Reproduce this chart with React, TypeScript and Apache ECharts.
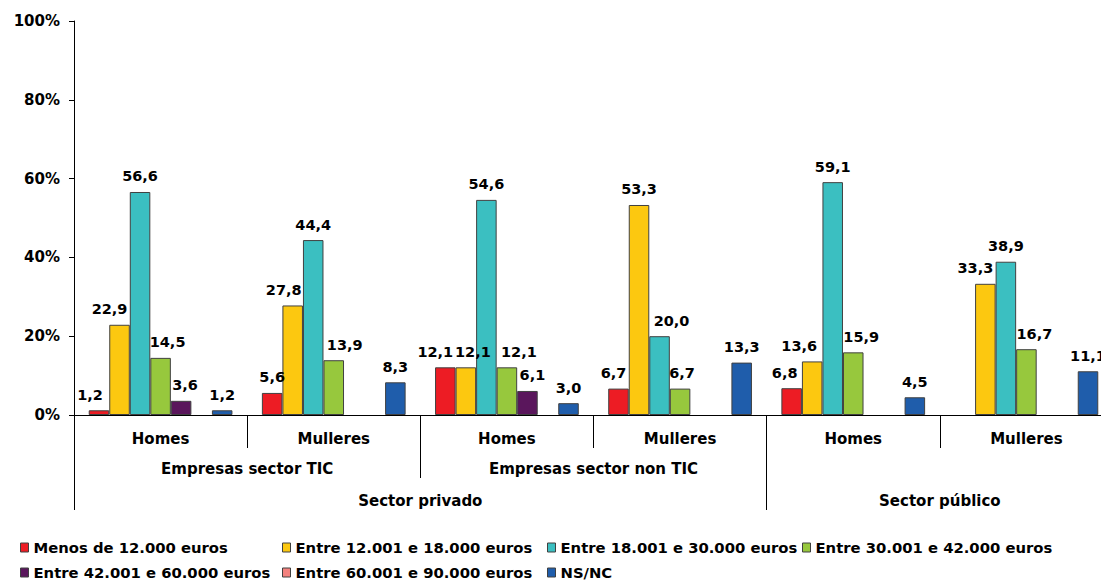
import React, { useEffect, useRef } from "react";
import * as echarts from "echarts";

const groups = ["Homes", "Mulleres", "Homes", "Mulleres", "Homes", "Mulleres"];
const subSectors = ["Empresas sector TIC", "Empresas sector non TIC", ""];
const sectorPositions = [2, 5];
const sectorNames = ["Sector privado", "Sector público"];
const sectorTicks = [0, 4, 6];
const yTicks = [0, 20, 40, 60, 80, 100];

const seriesNames = [
  "Menos de 12.000 euros",
  "Entre 12.001 e 18.000 euros",
  "Entre 18.001 e 30.000 euros",
  "Entre 30.001 e 42.000 euros",
  "Entre 42.001 e 60.000 euros",
  "Entre 60.001 e 90.000 euros",
  "NS/NC",
];
const colors = ["#ED1C24", "#FCC810", "#3BBFC1", "#97C83D", "#5A165C", "#F4827F", "#1F5DAB"];

const menos12 = [1.2, 5.6, 12.1, 6.7, 6.8, null];
const entre12_18 = [22.9, 27.8, 12.1, 53.3, 13.6, 33.3];
const entre18_30 = [56.6, 44.4, 54.6, 20.0, 59.1, 38.9];
const entre30_42 = [14.5, 13.9, 12.1, 6.7, 15.9, 16.7];
const entre42_60 = [3.6, null, 6.1, null, null, null];
const entre60_90 = [null, null, null, null, null, null];
const nsnc = [1.2, 8.3, 3.0, 13.3, 4.5, 11.1];

const allData = [menos12, entre12_18, entre18_30, entre30_42, entre42_60, entre60_90, nsnc];

// Horizontal nudges of value labels (px), as placed in the original to avoid collisions
const labelShiftX = [
  [-9, 0, -10, -5, -7, 0],
  [-10, -9, 7, 0, -13, -10],
  [0, 0, 0, 12, 0, 0],
  [7, 11, 12, 2, 8, 8],
  [4, 0, 5, 0, 0, 0],
  [0, 0, 0, 0, 0, 0],
  [0, 0, 0, 0, 0, 0],
];

const FONT = "Verdana, 'DejaVu Sans', sans-serif";

export default function App() {
  const ref = useRef<HTMLDivElement>(null);
  useEffect(() => {
    if (!ref.current) return;
    const chart = echarts.init(ref.current, null, { renderer: "svg" });
    const textBase = { fontFamily: FONT, fontWeight: "bold" as const, fontSize: 15, color: "#000" };
    const legendPos = [
      { left: 20, top: 540 },
      { left: 282, top: 540 },
      { left: 547, top: 540 },
      { left: 802, top: 540 },
      { left: 20, top: 565 },
      { left: 282, top: 565 },
      { left: 547, top: 565 },
    ];
    chart.setOption({
      animation: false,
      color: colors,
      grid: {
        left: 74,
        top: 21,
        bottom: 165,
        width: 1039,
        containLabel: false,
        outerBoundsMode: "none",
      },
      legend: seriesNames.map((name, i) => ({
        orient: "horizontal",
        left: legendPos[i].left,
        top: legendPos[i].top,
        padding: 0,
        itemWidth: 8,
        itemHeight: 9,
        icon: "rect",
        data: [name],
        textStyle: { ...textBase, fontSize: 14.8 },
        itemStyle: { borderColor: "#404040", borderWidth: 1 },
        selectedMode: false,
      })),
      xAxis: [
        {
          type: "category",
          data: groups,
          position: "bottom",
          axisLine: { show: true, lineStyle: { color: "#000", width: 1 } },
          axisTick: { show: true, length: 33, interval: 0, lineStyle: { color: "#000" } },
          axisLabel: { ...textBase, margin: 16, interval: 0 },
        },
        {
          type: "category",
          data: subSectors,
          position: "bottom",
          axisLine: { show: false },
          axisTick: { show: true, length: 63, interval: 0, lineStyle: { color: "#000" } },
          axisLabel: { ...textBase, margin: 46, interval: 0 },
        },
        {
          type: "value",
          min: 0,
          max: 6,
          position: "bottom",
          splitLine: { show: false },
          axisLine: { show: false },
          axisTick: { show: true, length: 95, customValues: sectorTicks, lineStyle: { color: "#000" } },
          axisLabel: {
            ...textBase,
            margin: 78,
            customValues: sectorPositions,
            formatter: (v: number) => sectorNames[sectorPositions.indexOf(v)] ?? "",
          },
        },
      ],
      yAxis: {
        type: "value",
        min: yTicks[0],
        max: yTicks[yTicks.length - 1],
        interval: 20,
        splitLine: { show: false },
        axisLine: { show: true, lineStyle: { color: "#000" } },
        axisTick: { show: true, length: 5, lineStyle: { color: "#000" } },
        axisLabel: { ...textBase, margin: 14, formatter: "{value}%" },
      },
      series: seriesNames.map((name, i) => ({
        name,
        type: "bar",
        xAxisIndex: 0,
        data: allData[i].map((v, j) => ({
          value: v,
          label: { offset: [labelShiftX[i][j], 0] },
        })),
        barGap: "0%",
        barCategoryGap: "17%",
        itemStyle: { color: colors[i], borderColor: "#404040", borderWidth: 1 },
        label: {
          show: true,
          position: "top",
          distance: 8,
          ...textBase,
          fontSize: 14.5,
          formatter: (p: any) => (p.value == null ? "" : Number(p.value).toFixed(1).replace(".", ",")),
        },
      })),
    });
    return () => chart.dispose();
  }, []);
  return <div ref={ref} style={{ width: 1101, height: 580, position: "absolute", left: 0, top: 0 }} />;
}
